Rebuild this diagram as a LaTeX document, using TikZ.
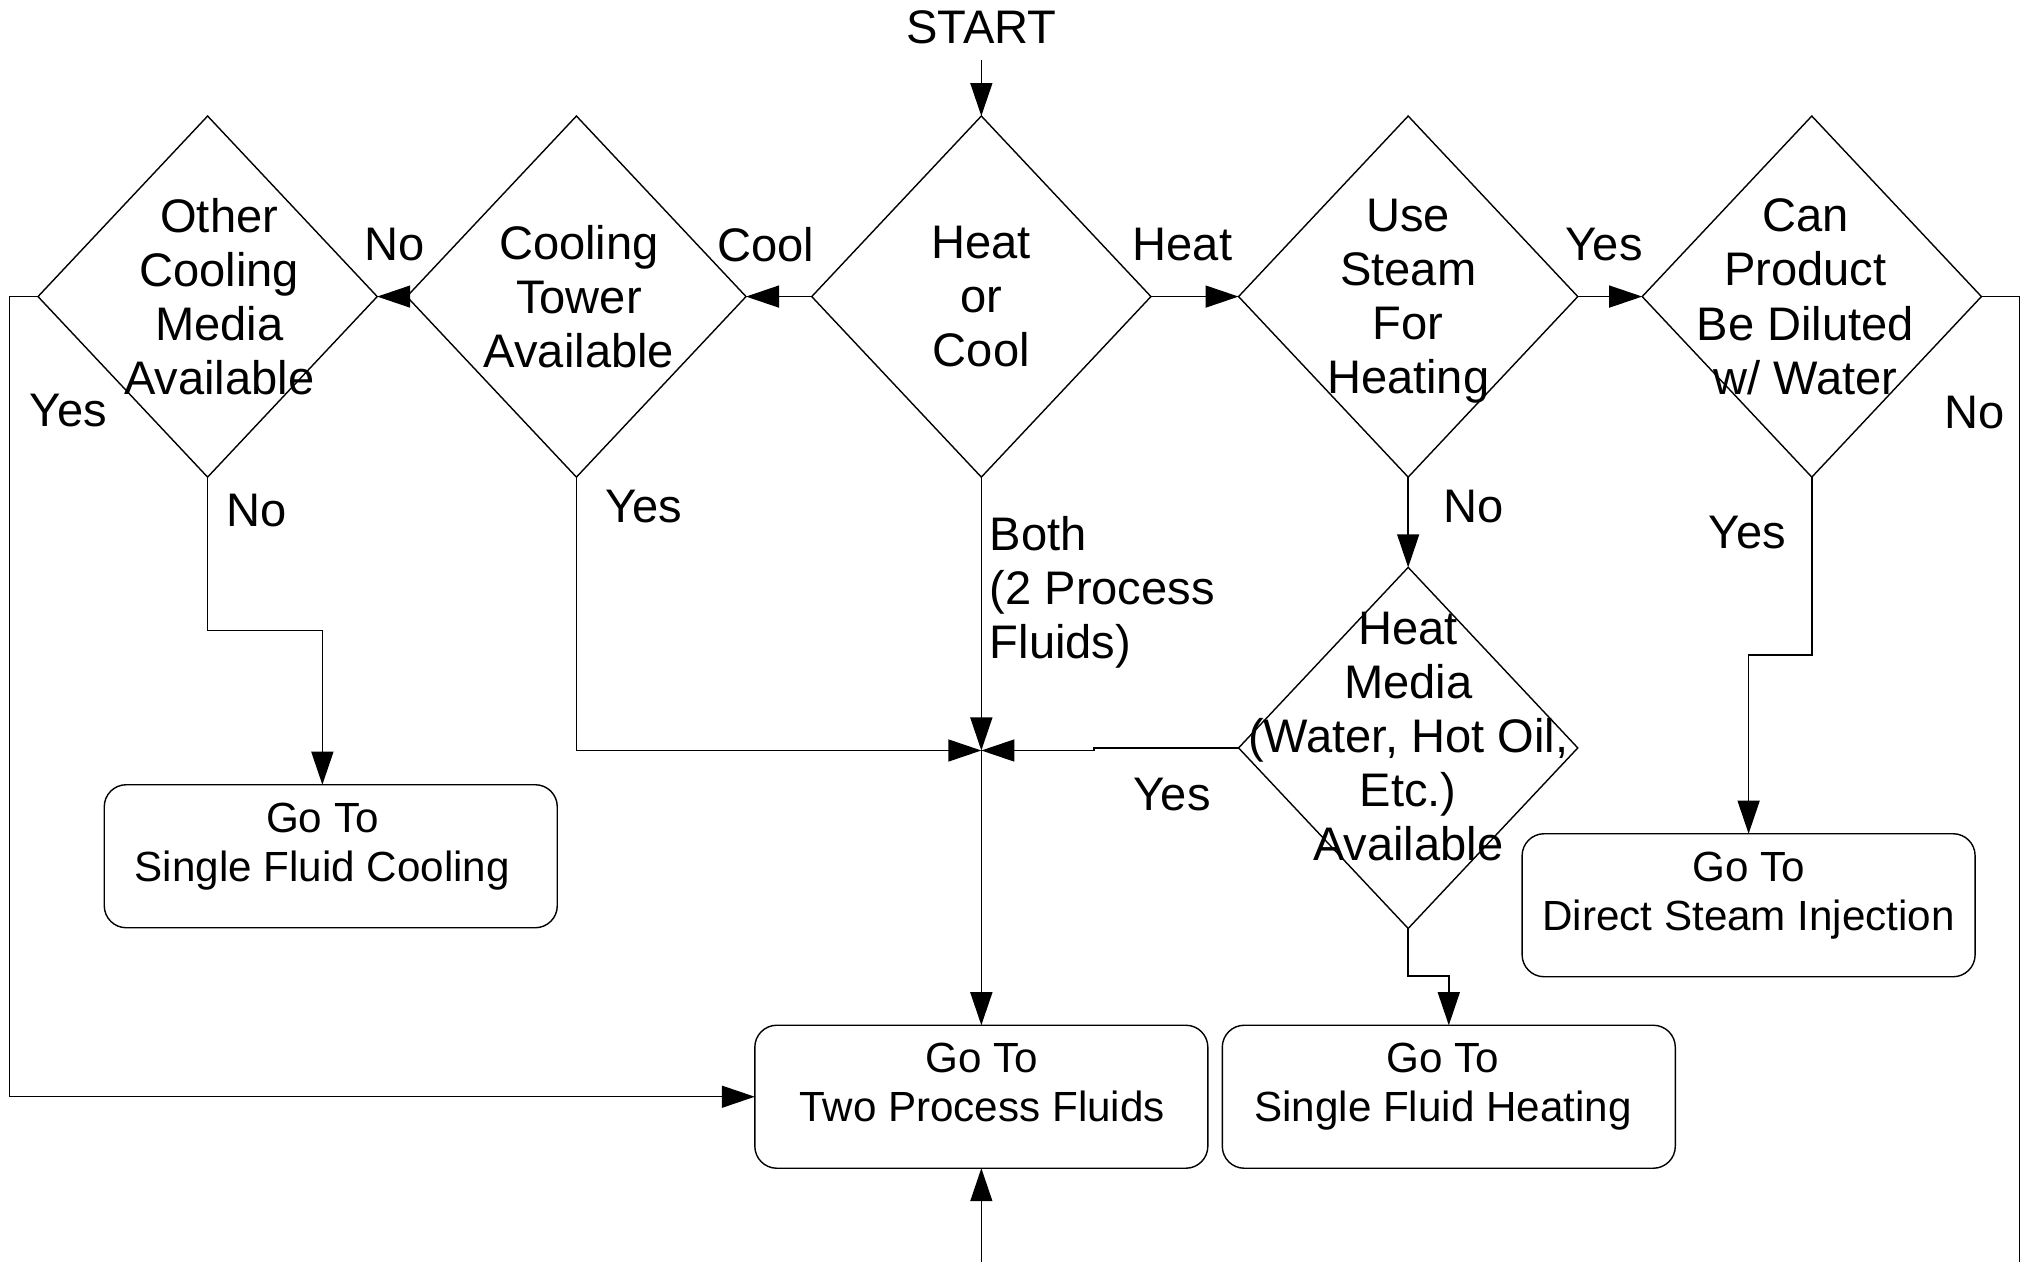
\documentclass[tikz,border=0pt]{standalone}
\usepackage{fontspec}
\setmainfont{Liberation Sans}
\usetikzlibrary{shapes.geometric, arrows.meta}

\tikzset{
    decision/.style={draw, diamond, minimum width=33.92mm, minimum height=36.11mm, inner sep=0pt, outer sep=0pt},
    qtext/.style={align=center, inner sep=0pt, text depth=0pt, font=\fontsize{13.4}{15.4}\selectfont},
    goto/.style={draw, rounded corners=2.2mm, minimum width=45.3mm, minimum height=14.3mm, inner sep=0pt, outer sep=0pt},
    gtext/.style={align=center, inner sep=0pt, text depth=0pt, font=\fontsize{12}{13.9}\selectfont},
    lbl/.style={inner sep=0pt, font=\fontsize{13.4}{15.4}\selectfont},
    flow/.style={-{Triangle[length=3.3mm, width=2.2mm]}}
}

\begin{document}
\begin{tikzpicture}[x=0.128954mm, y=-0.128954mm]
    \useasboundingbox (0,0) rectangle (1568,978.6);

    \node[lbl, inner sep=1.57mm] (start) at (761,21) {START};

    \node[decision] (d1) at (161,230) {};
    \node[decision] (d2) at (447,230) {};
    \node[decision] (d3) at (761,230) {};
    \node[decision] (d4) at (1092,230) {};
    \node[decision] (d5) at (1405,230) {};
    \node[decision] (d6) at (1092,580) {};

    \node[qtext] (t1) at (170,230) {Other\\Cooling\\Media\\Available};
    \node[qtext] (t2) at (449,230) {Cooling\\Tower\\Available};
    \node[qtext] (t3) at (761,230) {Heat\\or\\Cool};
    \node[qtext] (t4) at (1092,230) {Use\\Steam\\For\\Heating};
    \node[qtext] (t5) at (1400,230) {Can\\Product\\Be Diluted\\w/ Water};
    \node[qtext] (t6) at (1092,571) {Heat\\Media\\(Water, Hot Oil,\\Etc.)\\Available};

    \node[goto] (b1) at (256.5,664) {};
    \node[goto] (b2) at (761,850.5) {};
    \node[goto] (b3) at (1123.5,850.5) {};
    \node[goto] (b4) at (1356,702) {};

    \node[gtext] (g1) at (250,653) {Go To\\Single Fluid Cooling};
    \node[gtext] (g2) at (761.5,839.5) {Go To\\Two Process Fluids};
    \node[gtext] (g3) at (1119,839.5) {Go To\\Single Fluid Heating};
    \node[gtext] (g4) at (1356,691) {Go To\\Direct Steam Injection};

    \coordinate (junc) at (761,582);
    \coordinate (bot) at (761,978.6);
    \coordinate (redge) at (1566,978.6);

    \draw[flow] (start.south) -- (d3.north);
    \draw[flow] (d3.west) -- (d2.east);
    \draw[flow] (d2.west) -- (d1.east);
    \draw[flow] (d3.east) -- (d4.west);
    \draw[flow] (d4.east) -- (d5.west);
    \draw[flow] (d1.west) -- ++(-22,0) |- (b2.west);
    \draw[flow] (d1.south) -- ++(0,119) -| ([xshift=-0.84mm]b1.north);
    \draw[flow] (d2.south) |- (junc);
    \draw[flow] (d3.south) -- (junc);
    \draw[flow] (d6.west) -- ++(-112,0) |- (junc);
    \draw[flow] (junc) -- (b2.north);
    \draw[flow] (bot) -- (b2.south);
    \draw[flow] (d4.south) -- (d6.north);
    \draw[flow] (d6.south) -- ++(0,37) -| (b3.north);
    \draw[flow] (d5.south) -- ++(0,138) -| (b4.north);
    \draw (d5.east) -| (redge);

    \node[lbl] (lcool) at (594,190) {Cool};
    \node[lbl] (lno1) at (306,190) {No};
    \node[lbl] (lheat) at (917,190) {Heat};
    \node[lbl] (lyes1) at (1244,190) {Yes};
    \node[lbl] (lyes2) at (53,318) {Yes};
    \node[lbl] (lno2) at (199,396) {No};
    \node[lbl] (lyes3) at (499,393) {Yes};
    \node[lbl, align=left, anchor=north west] (lboth) at (767,400) {Both\\(2 Process\\Fluids)};
    \node[lbl] (lno3) at (1143,393) {No};
    \node[lbl] (lyes4) at (1355,413) {Yes};
    \node[lbl] (lno4) at (1531,320) {No};
    \node[lbl] (lyes5) at (909,616) {Yes};
\end{tikzpicture}
\end{document}
